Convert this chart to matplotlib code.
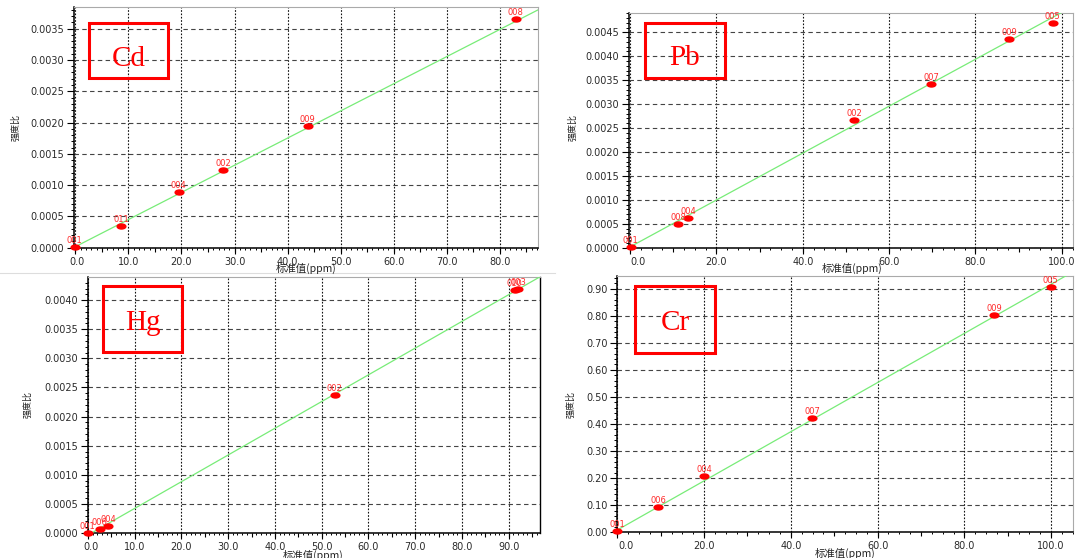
import matplotlib
matplotlib.use("Agg")
import matplotlib.pyplot as plt
import numpy as np
from matplotlib.markers import MarkerStyle
from matplotlib.transforms import Affine2D, ScaledTranslation
from matplotlib.ticker import MultipleLocator, AutoMinorLocator, FormatStrFormatter
from matplotlib.patches import Rectangle
from matplotlib.lines import Line2D

W, H = 1075, 558

# ---------------- data ----------------
cd_names = ["001", "011", "004", "002", "009", "008"]
cd_conc = [-0.1, 8.6, 19.5, 27.9, 43.8, 83.0]
cd_ratio = [0.00001, 0.000351, 0.000885, 0.00124, 0.001944, 0.003653]
cd_fit = [4.34e-5, 1.6e-5]          # slope, intercept

pb_names = ["001", "008", "004", "002", "007", "009", "005"]
pb_conc = [0.1, 11.2, 13.5, 51.9, 69.7, 87.8, 97.9]
pb_ratio = [0.00002, 0.000489, 0.000627, 0.00266, 0.00342, 0.004354, 0.004695]
pb_fit = [4.9e-5, 1.7e-5]

hg_names = ["001", "006", "004", "002", "010", "003"]
hg_conc = [0.0, 2.5, 4.4, 52.8, 91.3, 92.1]
hg_ratio = [0.000005, 0.000074, 0.000125, 0.002376, 0.00418, 0.004192]
hg_fit = [4.59e-5, -3.7e-5]

cr_names = ["001", "006", "004", "007", "009", "005"]
cr_conc = [0.0, 9.4, 20.0, 44.9, 86.9, 99.9]
cr_ratio = [0.004, 0.0946, 0.207, 0.4234, 0.8016, 0.905]
cr_fit = [0.00908, 0.0085]

elements = ["Cd", "Pb", "Hg", "Cr"]
x_label = "标准值(ppm)"
y_label = "强度比"

CJK = ["Noto Sans CJK SC", "DejaVu Sans"]

fig = plt.figure(figsize=(W / 100, H / 100), dpi=100)
fig.patch.set_facecolor("white")

marker = MarkerStyle("o", transform=Affine2D().scale(1.75, 1.0))


def px_text(x, y, s, **kw):
    return fig.text(x / W, 1 - y / H, s, **kw)


def panel(rect, names, conc, ratio, fit, xlim, ylim, xmajor, xminor, xmed,
          ymajor, yfmt, elem, box, elem_xy, ylab_xy, xlab_xy, zero_shift,
          right_black=False):
    l, r, t, b = rect
    ax = fig.add_axes([l / W, 1 - b / H, (r - l) / W, (b - t) / H])
    ax.set_xlim(xlim)
    ax.set_ylim(ylim)
    ax.set_facecolor("white")

    ax.xaxis.set_major_locator(MultipleLocator(xmajor))
    ax.xaxis.set_minor_locator(MultipleLocator(xminor))
    ax.yaxis.set_major_locator(MultipleLocator(ymajor))
    ax.yaxis.set_minor_locator(AutoMinorLocator(5))
    ax.xaxis.set_major_formatter(FormatStrFormatter("%.1f"))
    ax.yaxis.set_major_formatter(FormatStrFormatter(yfmt))

    ax.grid(True, axis="x", which="major", color="#111111",
            linestyle=(0, (1.5, 1.5)), linewidth=0.8)
    ax.grid(True, axis="y", which="major", color="#444444",
            linestyle=(0, (4, 3)), linewidth=0.8)
    ax.set_axisbelow(True)

    ax.tick_params(axis="y", which="major", direction="out", length=5,
                   width=0.8, pad=2, labelsize=7, labelcolor="#2a2a2a")
    ax.tick_params(axis="y", which="minor", direction="out", length=2.5,
                   width=0.7)
    ax.tick_params(axis="x", which="major", direction="out", length=4,
                   width=0.8, pad=2.5, labelsize=7, labelcolor="#2a2a2a")
    ax.tick_params(axis="x", which="minor", direction="out", length=1.6,
                   width=0.7)

    # medium ticks on x axis
    sec = ax.secondary_xaxis("bottom")
    sec.xaxis.set_major_locator(MultipleLocator(xmed))
    sec.tick_params(axis="x", which="major", direction="out", length=3,
                    width=0.8, labelbottom=False)
    sec.xaxis.set_minor_locator(MultipleLocator(xmed))
    sec.tick_params(axis="x", which="minor", length=0)
    for sp in sec.spines.values():
        sp.set_visible(False)

    for side in ("left", "bottom"):
        ax.spines[side].set_color("black")
        ax.spines[side].set_linewidth(1.1)
    for side in ("top", "right"):
        ax.spines[side].set_color("#aaaaaa")
        ax.spines[side].set_linewidth(0.8)
    if right_black:
        ax.spines["right"].set_color("black")
        ax.spines["right"].set_linewidth(1.0)

    # calibration line
    xs = np.array(xlim)
    ax.plot(xs, fit[0] * xs + fit[1], color="#78ec78", linewidth=0.9,
            zorder=3)

    # points and labels
    ax.plot(conc, ratio, linestyle="none", marker=marker, markersize=3.6,
            color="#ff0000", clip_on=False, zorder=5)
    for n, xv, yv in zip(names, conc, ratio):
        ax.annotate(n, (xv, yv), xytext=(0, 4.6), textcoords="offset points",
                    ha="center", va="center", fontsize=6, color="#ff2a2a",
                    annotation_clip=False, zorder=6)

    # shift the "0.0" x tick label to the right
    fig.canvas.draw()
    locs = list(ax.xaxis.get_majorticklocs())
    ticks = ax.xaxis.get_major_ticks(len(locs))
    for loc, tk in zip(locs, ticks):
        if abs(loc) < 1e-9:
            lab = tk.label1
            lab.set_transform(lab.get_transform() +
                              ScaledTranslation(zero_shift / 100, 0,
                                                fig.dpi_scale_trans))

    # element box
    bl, bt, br, bb = box
    fig.add_artist(Rectangle((bl / W, 1 - bb / H), (br - bl) / W,
                             (bb - bt) / H, transform=fig.transFigure,
                             fill=False, edgecolor="#ff0000", linewidth=2.2,
                             zorder=10))
    px_text(elem_xy[0], elem_xy[1], elem, fontsize=21,
            family="Liberation Serif", color="#ff0000", ha="center",
            va="baseline", zorder=11)

    px_text(ylab_xy[0], ylab_xy[1], y_label, rotation=90, ha="center",
            va="center", fontsize=6.5, family=CJK, color="#222222")
    px_text(xlab_xy[0], xlab_xy[1], x_label, ha="center", va="center",
            fontsize=7.5, family=CJK, color="#222222")
    return ax


# Cd
panel((74, 538, 7.3, 247.7), cd_names, cd_conc, cd_ratio, cd_fit,
      (-0.26, 87.2), (0, 0.003842), 10, 1, 5, 0.0005, "%.4f", elements[0],
      (88.8, 22.7, 168.4, 77.7), (129, 65.5), (15.5, 128), (306.5, 268), 2)

# Pb
panel((628.8, 1073, 12.7, 247.7), pb_names, pb_conc, pb_ratio, pb_fit,
      (-0.3, 102.6), (0, 0.00491), 20, 2.5, 10, 0.0005, "%.4f", elements[1],
      (645.1, 22.7, 724.6, 77.7), (685, 65), (572.4, 128), (852, 268), 8)

# Hg
panel((87.85, 540, 277.3, 533), hg_names, hg_conc, hg_ratio, hg_fit,
      (0, 96.7), (0, 0.004393), 10, 1, 5, 0.0005, "%.4f", elements[2],
      (103.3, 286, 181.8, 352.3), (142.9, 330), (27.5, 405), (313.4, 555), 3,
      right_black=True)

# Cr
panel((617.35, 1073, 275.7, 532.3), cr_names, cr_conc, cr_ratio, cr_fit,
      (0, 105.05), (0, 0.948), 20, 2.5, 10, 0.1, "%.2f", elements[3],
      (635.2, 286, 714.7, 352.7), (675.4, 330), (570.7, 405), (845.4, 553.3), 9)

# faint separator under the upper-left panel
fig.add_artist(Line2D([0, 555 / W], [1 - 272.5 / H] * 2,
                      transform=fig.transFigure, color="#dddddd",
                      linewidth=0.8))

fig.savefig("out.png", dpi=100, facecolor="white")
